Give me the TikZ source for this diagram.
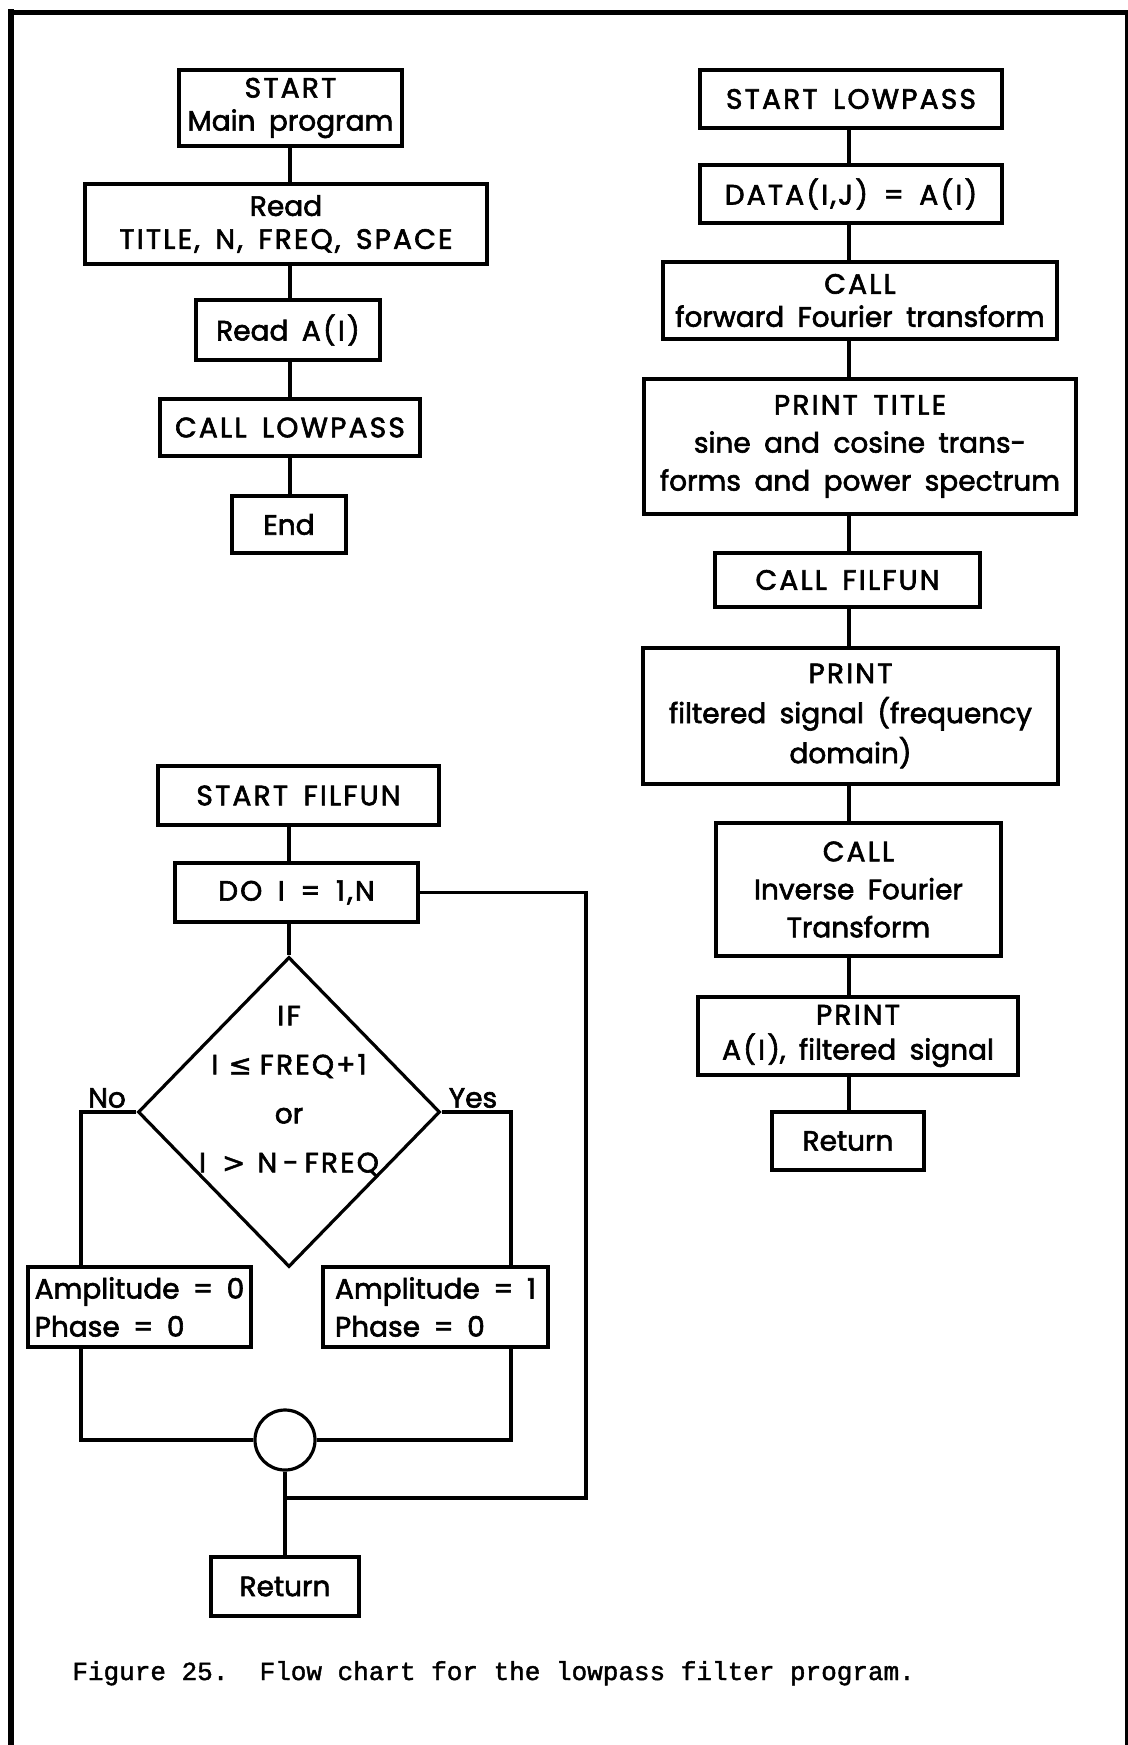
\documentclass[tikz,border=0pt]{standalone}
\usepackage{fontspec}
\setmainfont{Poppins}[WordSpace=1.8, FakeBold=2.2]
\newfontfamily\capsf{Poppins}[WordSpace=1.6, LetterSpace=8, FakeBold=2.2]
\newfontfamily\capfont{Liberation Mono}[FakeBold=1.6]
\newfontfamily\symf{DejaVu Sans}[FakeBold=1.5]
\usetikzlibrary{shapes.geometric}
\tikzset{
  box/.style={draw, line width=1.8pt, inner sep=0pt, align=center, font=\fontsize{14}{19}\selectfont},
  tight/.style={font=\fontsize{14}{16.5}\selectfont},
  sz/.style 2 args={minimum width=#1, minimum height=#2},
  conn/.style={line width=1.8pt},
  lbl/.style={inner sep=0pt, font=\fontsize{14}{19}\selectfont},
  frameline/.style={line cap=rect},
}
\begin{document}
\begin{tikzpicture}[x=0.5pt,y=-0.5pt]
\useasboundingbox (0,0) rectangle (1128,1745);
% frame
\draw[frameline, line width=3pt] (11,1745) -- (11,12);
\draw[frameline, line width=2.5pt] (11,12) -- (1126,12);
\draw[frameline, line width=1.5pt] (1126,12) -- (1126,1745);

% main program
\coordinate (ms) at (290,0);
\node[box, tight, sz={111.5pt}{38pt}] (m1) at (290.5,108) {{\capsf START}\\Main program};
\node[box, tight, sz={201pt}{40pt}] (m2) at (286,224) {Read\\{\capsf TITLE, N, FREQ, SPACE}};
\node[box, sz={92pt}{30pt}] (m3) at (288,330) {Read {\capsf A(I)}};
\node[box, sz={130pt}{28.5pt}] (m4) at (290,427.5) {\capsf CALL LOWPASS};
\node[box, sz={57pt}{28.5pt}] (m5) at (289,524.5) {End};
\draw[conn] (ms |- m1.south) -- (ms |- m2.north);
\draw[conn] (ms |- m2.south) -- (ms |- m3.north);
\draw[conn] (ms |- m3.south) -- (ms |- m4.north);
\draw[conn] (ms |- m4.south) -- (ms |- m5.north);

% lowpass
\coordinate (rs) at (849,0);
\node[box, sz={151pt}{29pt}] (r1) at (851,99) {\capsf START LOWPASS};
\node[box, sz={151pt}{29pt}] (r2) at (851,194) {\capsf DATA(I,J) = A(I)};
\node[box, tight, sz={197pt}{38.5pt}] (r3) at (860,300.5) {{\capsf CALL}\\forward Fourier transform};
\node[box, sz={216pt}{67.5pt}] (r4) at (860,446.5) {{\capsf PRINT TITLE}\\sine and cosine trans-\\forms and power spectrum};
\node[box, sz={132.5pt}{27pt}] (r5) at (847.5,580) {\capsf CALL FILFUN};
\node[box, font=\fontsize{14}{20}\selectfont, sz={207.5pt}{68pt}] (r6) at (850.5,716) {{\capsf PRINT}\\filtered signal (frequency\\domain)};
\node[box, sz={142.5pt}{66.5pt}] (r7) at (858.5,889.5) {{\capsf CALL}\\Inverse Fourier\\Transform};
\node[box, font=\fontsize{14}{17.5}\selectfont, sz={160pt}{39pt}] (r8) at (858,1036) {{\capsf PRINT}\\{\capsf A(I)}, filtered signal};
\node[box, sz={76pt}{29pt}] (r9) at (848,1141) {Return};
\draw[conn] (rs |- r1.south) -- (rs |- r2.north);
\draw[conn] (rs |- r2.south) -- (rs |- r3.north);
\draw[conn] (rs |- r3.south) -- (rs |- r4.north);
\draw[conn] (rs |- r4.south) -- (rs |- r5.north);
\draw[conn] (rs |- r5.south) -- (rs |- r6.north);
\draw[conn] (rs |- r6.south) -- (rs |- r7.north);
\draw[conn] (rs |- r7.south) -- (rs |- r8.north);
\draw[conn] (rs |- r8.south) -- (rs |- r9.north);

% filfun
\coordinate (fs) at (289,0);
\coordinate (nlx) at (81,0);
\coordinate (ylx) at (511,0);
\coordinate (lpx) at (586,0);
\node[box, sz={140.5pt}{29.5pt}] (f1) at (298.5,795.5) {\capsf START FILFUN};
\node[box, sz={121.5pt}{29.5pt}] (f2) at (296.5,892.5) {\capsf DO I = 1,N};
\node[diamond, draw, line width=1.6pt, inner sep=0pt, minimum width=151pt, minimum height=155pt] (d) at (289,1112) {};
\node[lbl, align=center, font=\fontsize{14}{24.5}\selectfont] (dt) at (289,1091) {{\capsf IF}\\{\capsf I\hspace{5pt}{\symf ≤}\hspace{4pt}FREQ+1}\\or\\{\capsf I\hspace{8pt}{\symf >}\hspace{6pt}N\hspace{3pt}-\hspace{3pt}FREQ}};
\node[lbl] (no) at (107,1098) {No};
\node[lbl] (yes) at (473,1098) {Yes};
\node[box, align=left, sz={111.5pt}{40pt}] (a0) at (139.5,1307) {Amplitude = 0\\Phase = 0};
\node[box, align=left, sz={112.5pt}{40pt}] (a1) at (435.5,1307) {Amplitude = 1\\Phase = 0};
\node[circle, draw, line width=1.6pt, inner sep=0pt, minimum size=30pt] (c) at (285,1440) {};
\node[box, sz={74pt}{29.5pt}] (f3) at (285,1586.5) {Return};
\coordinate (jn) at (285,1498);
\draw[conn] (fs |- f1.south) -- (fs |- f2.north);
\draw[conn] (fs |- f2.south) -- (d.north);
\draw[conn] (d.west) -| (nlx |- a0.north);
\draw[conn] (d.east) -| (ylx |- a1.north);
\draw[conn] (nlx |- a0.south) |- (c.west);
\draw[conn] (ylx |- a1.south) |- (c.east);
\draw[conn] (c.south) -- (f3.north);
\draw[conn] (f2.east) -| (lpx |- jn) -- (jn);

% caption
\node[anchor=base west, inner sep=0pt, font=\capfont\fontsize{13}{15}\selectfont] (cap) at (72,1680) {Figure 25.~~Flow chart for the lowpass filter program.};
\end{tikzpicture}
\end{document}
